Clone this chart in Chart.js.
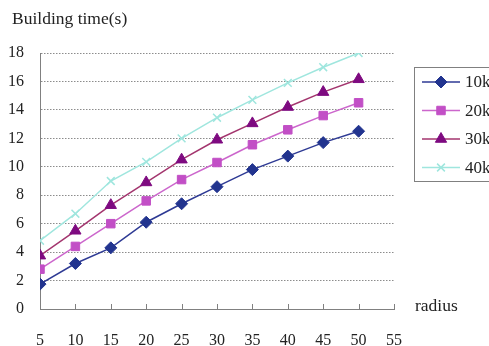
<!DOCTYPE html>
<html>
<head>
<meta charset="utf-8">
<script src="https://cdn.jsdelivr.net/npm/chart.js@4/dist/chart.umd.min.js"></script>
<style>
  html, body { margin: 0; padding: 0; background: #fff; }
  #wrap { position: relative; width: 489px; height: 346px; }
</style>
</head>
<body>
<div id="wrap"><canvas id="line-chart" width="489" height="346"></canvas></div>
<script>
const radius = [5, 10, 15, 20, 25, 30, 35, 40, 45, 50];
const seriesNames = ["10k", "20k", "30k", "40k"];
const time10k = [1.75, 3.2, 4.3, 6.1, 7.4, 8.6, 9.8, 10.75, 11.7, 12.5];
const time20k = [2.8, 4.4, 6.0, 7.6, 9.1, 10.3, 11.55, 12.6, 13.6, 14.5];
const time30k = [3.75, 5.5, 7.3, 8.9, 10.5, 11.9, 13.05, 14.2, 15.25, 16.15];
const time40k = [4.8, 6.7, 9.0, 10.35, 12.0, 13.45, 14.7, 15.9, 17.0, 18.0];
const yTicks = [0, 2, 4, 6, 8, 10, 12, 14, 16, 18];
const xTicks = [5, 10, 15, 20, 25, 30, 35, 40, 45, 50, 55];

const serif = "'Liberation Serif', 'DejaVu Serif', serif";

function pts(ys) {
  return ys.map((y, i) => ({ x: radius[i], y: y }));
}

const styles = [
  { line: "#2e3a94", fill: "#22348f", point: "rectRot", r: 6 },
  { line: "#cc66cc", fill: "#c24fc6", point: "rect", r: 6 },
  { line: "#a3356e", fill: "#7e0a80", point: "triangle", r: 6.5 },
  { line: "#9fe6de", fill: "#9fe6de", point: "crossRot", r: 5.5 }
];

const allData = [time10k, time20k, time30k, time40k];

const datasets = allData.map((ys, i) => ({
  label: seriesNames[i],
  data: pts(ys),
  borderColor: styles[i].line,
  backgroundColor: styles[i].fill,
  pointBorderColor: styles[i].point === "crossRot" ? styles[i].line : styles[i].fill,
  pointBackgroundColor: styles[i].fill,
  pointStyle: styles[i].point,
  pointRadius: styles[i].r,
  pointBorderWidth: styles[i].point === "crossRot" ? 1.5 : 1,
  borderWidth: 1.5,
  tension: 0
}));

// axis titles, upward tick marks and the boxed legend
const extras = {
  id: "extras",
  afterDraw(chart) {
    const ctx = chart.ctx;
    const xs = chart.scales.x;
    const area = chart.chartArea;
    ctx.save();
    ctx.fillStyle = "#222";
    ctx.font = "17.5px " + serif;
    ctx.textBaseline = "alphabetic";
    ctx.textAlign = "left";
    ctx.fillText("Building time(s)", 12, 24);
    ctx.fillText("radius", 415, 311);

    ctx.strokeStyle = "#808080";
    ctx.lineWidth = 1;
    xTicks.forEach(v => {
      const px = Math.round(xs.getPixelForValue(v)) + 0.5;
      ctx.beginPath();
      ctx.moveTo(px, area.bottom);
      ctx.lineTo(px, area.bottom - 5);
      ctx.stroke();
    });

    // legend box
    ctx.strokeStyle = "#808080";
    ctx.lineWidth = 1;
    ctx.strokeRect(414.5, 67.5, 90, 114);
    chart.data.datasets.forEach((ds, i) => {
      const y = 82 + i * 28.5;
      ctx.strokeStyle = ds.borderColor;
      ctx.lineWidth = 1.5;
      ctx.beginPath();
      ctx.moveTo(422, y);
      ctx.lineTo(460, y);
      ctx.stroke();
      ctx.fillStyle = ds.pointBackgroundColor;
      ctx.strokeStyle = ds.pointBorderColor;
      ctx.lineWidth = ds.pointBorderWidth;
      Chart.helpers.drawPoint(ctx, {
        pointStyle: ds.pointStyle,
        radius: ds.pointRadius,
        borderWidth: ds.pointBorderWidth,
        rotation: 0
      }, 441, y);
      ctx.fillStyle = "#222";
      ctx.font = "17px " + serif;
      ctx.textBaseline = "middle";
      ctx.fillText(ds.label, 465, y + 1);
    });
    ctx.restore();
  }
};

new Chart(document.getElementById("line-chart").getContext("2d"), {
  type: "line",
  data: { datasets: datasets },
  options: {
    responsive: false,
    animation: false,
    maintainAspectRatio: false,
    layout: { padding: { top: 53, right: 95, left: 0, bottom: 0 } },
    plugins: {
      legend: { display: false },
      tooltip: { enabled: false }
    },
    scales: {
      x: {
        type: "linear",
        min: 5,
        max: 55,
        afterBuildTicks: s => { s.ticks = xTicks.map(v => ({ value: v })); },
        grid: { display: false, drawTicks: false },
        border: { display: true, color: "#808080", width: 1 },
        ticks: { color: "#222", font: { family: serif, size: 16 }, padding: 22, maxRotation: 0, autoSkip: false },
        afterFit: s => { s.height = 37; }
      },
      y: {
        min: 0,
        max: 18,
        afterBuildTicks: s => { s.ticks = yTicks.map(v => ({ value: v })); },
        grid: {
          color: "#8c8c8c",
          drawTicks: false
        },
        border: { display: true, color: "#808080", width: 1, dash: [1.5, 1.5] },
        ticks: { color: "#222", font: { family: serif, size: 16 }, padding: 16, autoSkip: false },
        afterFit: s => { s.width = 40; }
      }
    }
  },
  plugins: [extras]
});
</script>
</body>
</html>
